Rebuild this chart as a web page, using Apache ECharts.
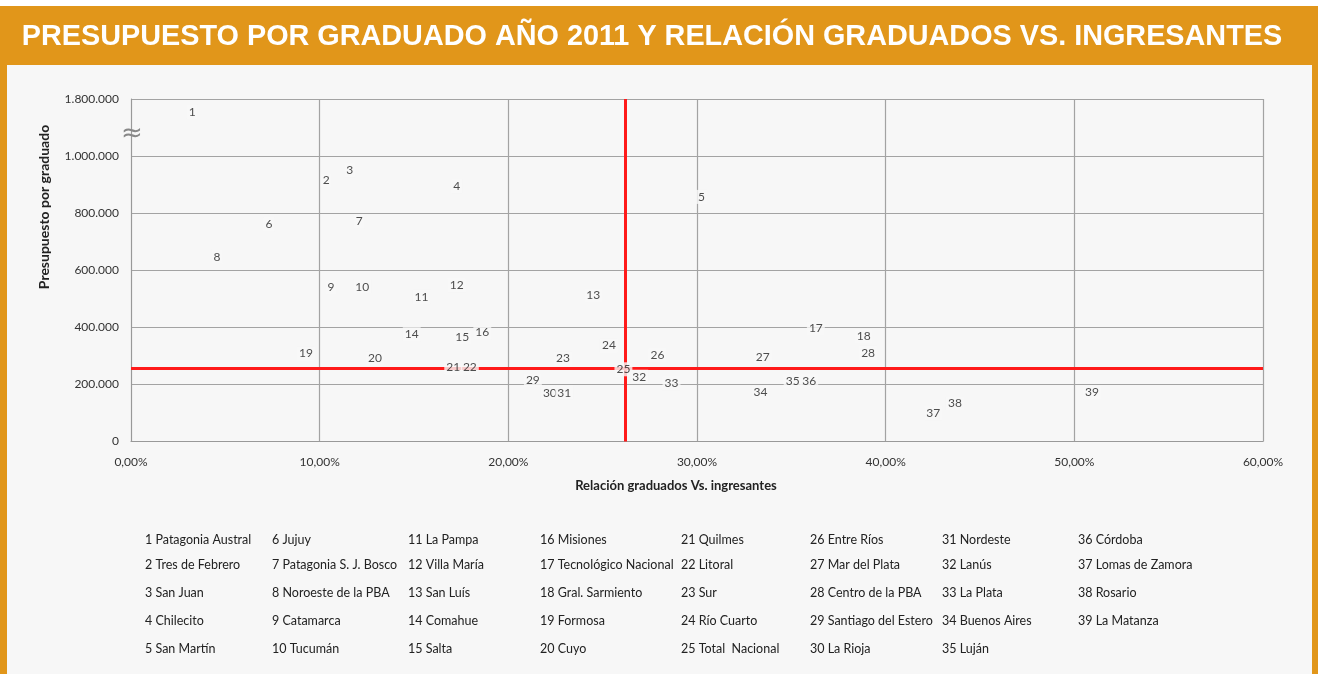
<!DOCTYPE html>
<html><head><meta charset="utf-8">
<script src="https://cdn.jsdelivr.net/npm/echarts@6/dist/echarts.min.js"></script>
<style>html,body{margin:0;padding:0;background:#fff}#c{width:1320px;height:674px}</style>
</head><body><div id="c"></div>
<script>
// ---- data ----
const ids = [1,2,3,4,5,6,7,8,9,10,11,12,13,14,15,16,17,18,19,20,21,22,23,24,25,26,27,28,29,30,31,32,33,34,35,36,37,38,39];
const names = ["Patagonia Austral","Tres de Febrero","San Juan","Chilecito","San Martín","Jujuy","Patagonia S. J. Bosco","Noroeste de la PBA","Catamarca","Tucumán","La Pampa","Villa María","San Luís","Comahue","Salta","Misiones","Tecnológico Nacional","Gral. Sarmiento","Formosa","Cuyo","Quilmes","Litoral","Sur","Río Cuarto","Total  Nacional","Entre Ríos","Mar del Plata","Centro de la PBA","Santiago del Estero","La Rioja","Nordeste","Lanús","La Plata","Buenos Aires","Luján","Córdoba","Lomas de Zamora","Rosario","La Matanza"];
const ratioPct = [3.25,10.35,11.6,17.26,30.24,7.31,12.1,4.56,10.6,12.26,15.4,17.26,24.5,14.88,17.56,18.62,36.3,38.84,9.27,12.93,17.08,17.96,22.9,25.33,26.1,27.9,33.48,39.07,21.3,22.2,22.96,26.94,28.65,33.37,35.07,35.95,42.52,43.67,50.94];
const budget = [1620000,916000,951000,895000,857000,761000,772000,647000,540000,542000,507000,548000,513000,376000,365000,382000,396000,370000,309000,291000,260000,260000,291000,336000,253000,303000,297000,311000,215000,171000,171000,227000,204000,172000,212000,212000,99000,134000,172000];
const refRatio = 26.2;      // red vertical line (Total Nacional ratio)
const refBudget = 257000;   // red horizontal line (Total Nacional budget)
const yTickLabels = {0:"0",200000:"200.000",400000:"400.000",600000:"600.000",800000:"800.000",1000000:"1.000.000",1200000:"1.800.000"};

// broken axis: 1.000.000 – 1.800.000 compressed into one 200.000 step
const BREAK = 1000000, FACTOR = 4;
function toAxis(v){ return v > BREAK ? BREAK + (v - BREAK) / FACTOR : v; }

const chart = echarts.init(document.getElementById('c'), null, {renderer:'canvas'});
const FONT = 'Lato';
const scatterData = ids.map((id,i)=>[ratioPct[i], toAxis(budget[i]), id]);

// legend layout
const colX = [145,272,408,540,681,810,942,1078];
const rowY = [540,565,593,621,649];
const legendGraphics = ids.map((id,i)=>({
  type:'text', left: colX[Math.floor(i/5)], top: rowY[i%5]-7,
  style:{text: id + ' ' + names[i], font: '12.5px ' + FONT, fill:'#222'}
}));

chart.setOption({
  backgroundColor:'#f7f7f7',
  animation:false,
  grid:{left:131, right:57, top:99, bottom:232.5, containLabel:false},
  xAxis:{type:'value', min:0, max:60, interval:10,
    axisLine:{show:true, lineStyle:{color:'#999', width:1}},
    axisTick:{show:false},
    axisLabel:{margin:15, fontFamily:FONT, fontSize:12, color:'#333',
      formatter:v=>v.toFixed(2).replace('.',',')+'%'},
    splitLine:{show:true, lineStyle:{color:'#a3a3a3', width:1.2}}},
  yAxis:{type:'value', min:0, max:1200000, interval:200000,
    axisLine:{show:true, lineStyle:{color:'#999', width:1}},
    axisTick:{show:false},
    axisLabel:{margin:12, fontFamily:FONT, fontSize:12, color:'#333',
      formatter:v=>yTickLabels[v] !== undefined ? yTickLabels[v] : ''},
    splitLine:{show:true, lineStyle:{color:'#a3a3a3', width:1.2}}},
  series:[
    {type:'scatter', z:1, data:[], silent:true,
     markLine:{silent:true, symbol:'none', label:{show:false},
       lineStyle:{color:'#ff1a1a', width:3, type:'solid'},
       data:[{xAxis:refRatio},{yAxis:refBudget}]}},
    {type:'scatter', z:5, data:scatterData, symbolSize:2, silent:true,
     itemStyle:{color:'rgba(0,0,0,0)'},
     label:{show:true, position:'inside', formatter:p=>String(p.data[2]),
       fontFamily:FONT, fontSize:12, color:'#222',
       backgroundColor:'#f7f7f7', padding:[1,2]}}
  ],
  graphic:[
    {type:'rect', z:-10, shape:{x:0,y:0,width:1320,height:6}, style:{fill:'#ffffff'}},
    {type:'rect', z:-10, shape:{x:0,y:6,width:1318,height:59}, style:{fill:'#e1961a'}},
    {type:'rect', z:-10, shape:{x:0,y:65,width:7,height:609}, style:{fill:'#e1961a'}},
    {type:'rect', z:-10, shape:{x:1312,y:65,width:6,height:609}, style:{fill:'#e1961a'}},
    {type:'rect', z:-10, shape:{x:1318,y:0,width:2,height:674}, style:{fill:'#ffffff'}},
    {type:'text', x:652, y:37, z:10,
     style:{text:'PRESUPUESTO POR GRADUADO AÑO 2011 Y RELACIÓN GRADUADOS VS. INGRESANTES',
       font:'bold 28.8px "Liberation Sans", Arial, sans-serif', fill:'#ffffff',
       align:'center', verticalAlign:'middle'}},
    {type:'text', x:44, y:207, rotation:Math.PI/2, z:10,
     style:{text:'Presupuesto por graduado', font:'bold 14px ' + FONT, fill:'#222',
       align:'center', verticalAlign:'middle'}},
    {type:'text', x:676, y:486, z:10,
     style:{text:'Relación graduados Vs. ingresantes', font:'bold 13px ' + FONT, fill:'#222',
       align:'center', verticalAlign:'middle'}},
    {type:'text', x:132, y:134, z:10,
     style:{text:'≈', font:'26px "DejaVu Sans"', fill:'#888', align:'center', verticalAlign:'middle'}}
  ].concat(legendGraphics)
});
</script></body></html>
